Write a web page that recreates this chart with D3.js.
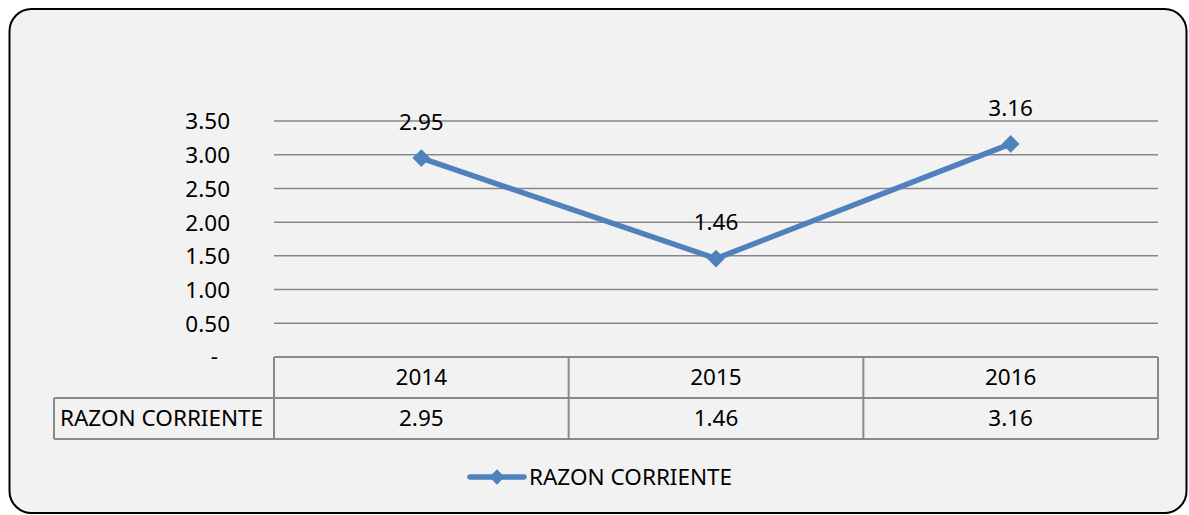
<!DOCTYPE html>
<html><head><meta charset="utf-8">
<script src="https://cdn.jsdelivr.net/npm/d3@7"></script>
<style>body{margin:0;background:#fff}svg{display:block}text{font-family:"Noto Sans",sans-serif;fill:#000}</style>
</head><body>
<svg id="c" width="1189" height="515"></svg>
<script>
const categories = ["2014", "2015", "2016"];
const seriesName = "RAZON CORRIENTE";
const values = [2.95, 1.46, 3.16];
const yTicks = [0, 0.5, 1.0, 1.5, 2.0, 2.5, 3.0, 3.5];

const svg = d3.select("#c");
const FS = 22.5;
svg.append("rect").attr("x", 9.5).attr("y", 9).attr("width", 1177).attr("height", 504)
  .attr("rx", 22).attr("fill", "#f2f2f2").attr("stroke", "#000").attr("stroke-width", 2);

const left = 274, right = 1158;
const x = d3.scaleBand().domain(categories).range([left, right]);
const y = d3.scaleLinear().domain([0, 3.5]).range([357, 121]);

// gridlines
svg.append("g").selectAll("line").data(yTicks.filter(d => d > 0)).join("line")
  .attr("x1", left).attr("x2", right).attr("y1", d => y(d)).attr("y2", d => y(d))
  .attr("stroke", "#878787").attr("stroke-width", 1.5);

// y axis labels
const yAxis = d3.axisLeft(y).tickValues(yTicks).tickSize(0)
  .tickFormat(d => d === 0 ? "-" : d3.format(".2f")(d));
const ga = svg.append("g").attr("transform", `translate(${230},0)`).call(yAxis);
ga.select(".domain").remove();
ga.selectAll("text").attr("x", 0).attr("dx", 0).style("font-size", FS + "px")
  .style("font-family", '"Noto Sans",sans-serif').attr("fill", "#000")
  .attr("dy", "0.35em").attr("transform", d => d === 0 ? "translate(-12,-1)" : null);

// table
const rowTop = 357, rowMid = 398, rowBot = 439, tableLeft = 54;
const tb = svg.append("g").attr("stroke", "#8a8a8a").attr("stroke-width", 2).attr("fill", "none");
tb.append("line").attr("x1", left).attr("x2", right).attr("y1", rowTop).attr("y2", rowTop);
tb.append("line").attr("x1", tableLeft).attr("x2", right).attr("y1", rowMid).attr("y2", rowMid);
tb.append("line").attr("x1", tableLeft).attr("x2", right).attr("y1", rowBot).attr("y2", rowBot);
tb.append("line").attr("x1", tableLeft).attr("x2", tableLeft).attr("y1", rowMid).attr("y2", rowBot);
const bounds = categories.map(c => x(c)).concat([right]);
tb.selectAll(".v").data(bounds).join("line").attr("class", "v")
  .attr("x1", d => d).attr("x2", d => d).attr("y1", rowTop).attr("y2", rowBot);

svg.append("g").selectAll("text").data(categories).join("text")
  .attr("x", d => x(d) + x.bandwidth() / 2).attr("y", (rowTop + rowMid) / 2).attr("dy", "0.35em")
  .attr("text-anchor", "middle").style("font-size", FS + "px").text(d => d);
svg.append("g").selectAll("text").data(values).join("text")
  .attr("x", (d, i) => x(categories[i]) + x.bandwidth() / 2).attr("y", (rowMid + rowBot) / 2).attr("dy", "0.35em")
  .attr("text-anchor", "middle").style("font-size", FS + "px").text(d => d3.format(".2f")(d));
svg.append("text").attr("x", 60).attr("y", (rowMid + rowBot) / 2).attr("dy", "0.35em")
  .style("font-size", FS + "px").text(seriesName);

// line
const color = "#4f81bd";
const pts = values.map((v, i) => [x(categories[i]) + x.bandwidth() / 2, y(v)]);
svg.append("path").attr("d", d3.line()(pts)).attr("fill", "none").attr("stroke", color)
  .attr("stroke-width", 5.5).attr("stroke-linejoin", "round").attr("stroke-linecap", "round");
const diamond = d3.symbol().type(d3.symbolDiamond2).size(200);
svg.append("g").selectAll("path").data(pts).join("path")
  .attr("transform", d => `translate(${d[0]},${d[1]})`).attr("d", diamond).attr("fill", color);

// data labels
svg.append("g").selectAll("text").data(values).join("text")
  .attr("x", (d, i) => pts[i][0]).attr("y", d => y(d) - 36).attr("dy", "0.35em")
  .attr("text-anchor", "middle").style("font-size", FS + "px").text(d => d3.format(".2f")(d));

// legend
const lg = svg.append("g");
lg.append("line").attr("x1", 470).attr("x2", 524).attr("y1", 477).attr("y2", 477)
  .attr("stroke", color).attr("stroke-width", 5.5).attr("stroke-linecap", "round");
lg.append("path").attr("transform", "translate(497,477)").attr("d", d3.symbol().type(d3.symbolDiamond2).size(150)).attr("fill", color);
lg.append("text").attr("x", 529).attr("y", 477).attr("dy", "0.35em").style("font-size", FS + "px").text(seriesName);
</script>
</body></html>
